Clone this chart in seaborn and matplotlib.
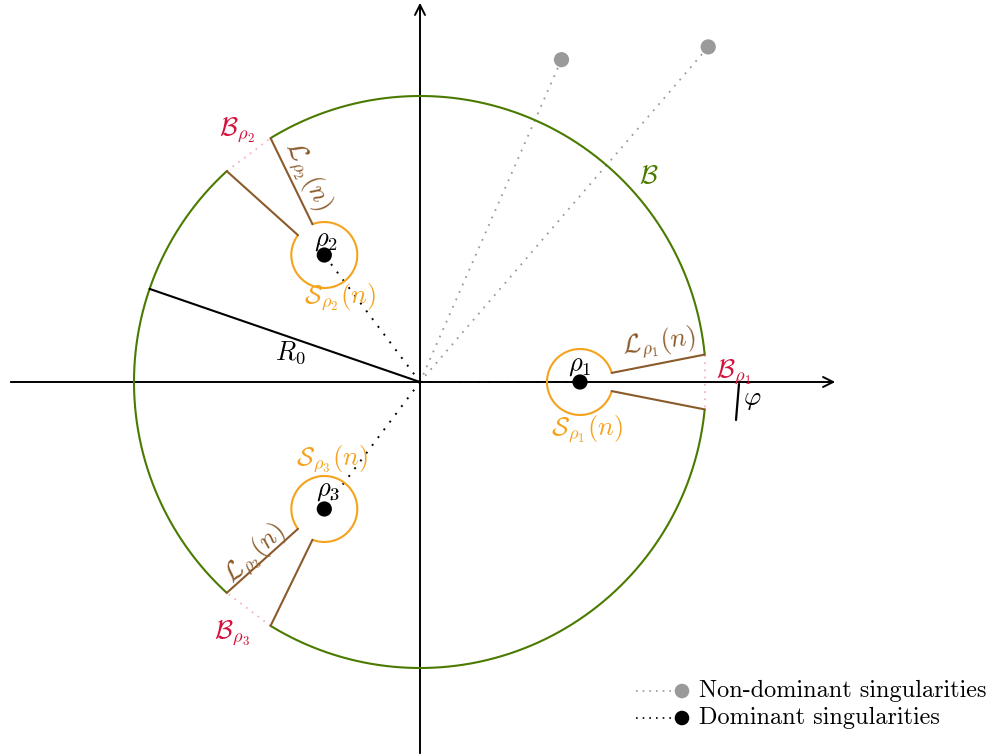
import numpy as np
import pandas as pd
import matplotlib
matplotlib.use("Agg")
import matplotlib.pyplot as plt
import seaborn as sns

# ---- data ----
dominant_names = [r"\rho_1", r"\rho_2", r"\rho_3"]
dominant_angles_deg = [0.0, 127.0, -127.0]
dominant_moduli = [160.0, 159.0, 159.0]
nondominant_angles_deg = [66.3, 49.3]
nondominant_moduli = [352.0, 442.0]
big_radius = 286.0
small_radius = 33.0
R0_angle_deg = 161.0
legend_labels = ["Non-dominant singularities", "Dominant singularities"]

sns.set_theme(style="white")
plt.rcParams["mathtext.fontset"] = "cm"
plt.rcParams["font.family"] = ["cmr10", "DejaVu Serif"]
plt.rcParams["axes.unicode_minus"] = False
plt.rcParams["text.color"] = "black"

GREEN = "#4a7a00"
ORANGE = "#f5a21c"
BROWN = "#8b5a2b"
RED = "#d4113c"
PINK = "#f4b4c4"
GREY = "#9a9a9a"

fig = plt.figure(figsize=(10.05, 7.56), dpi=100)
ax = fig.add_axes([0, 0, 1, 1])
ax.set_xlim(-420, 585)
ax.set_ylim(-374, 382)
ax.set_aspect("equal")
ax.axis("off")

def e(deg):
    t = np.deg2rad(deg)
    return np.array([np.cos(t), np.sin(t)])

beta = 5.5   # half-gap on big circle (deg)
alpha = 16.0  # half-opening on small circle (deg)

# axes arrows
ax.annotate("", xy=(418, 0), xytext=(-412, 0),
            arrowprops=dict(arrowstyle="->", color="black", lw=1.4, mutation_scale=18))
ax.annotate("", xy=(0, 382), xytext=(0, -374),
            arrowprops=dict(arrowstyle="->", color="black", lw=1.4, mutation_scale=18))

# non-dominant singularities
nd = pd.DataFrame({
    "x": [m * np.cos(np.deg2rad(a)) for a, m in zip(nondominant_angles_deg, nondominant_moduli)],
    "y": [m * np.sin(np.deg2rad(a)) for a, m in zip(nondominant_angles_deg, nondominant_moduli)],
})
for x, y in zip(nd["x"], nd["y"]):
    ax.plot([0, x], [0, y], color=GREY, lw=1.3, ls=(0, (1, 3.5)), zorder=2)
sns.scatterplot(data=nd, x="x", y="y", ax=ax, color=GREY, s=120, edgecolor="none", zorder=5, legend=False)

# dominant singularities
dm = pd.DataFrame({
    "x": [m * np.cos(np.deg2rad(a)) for a, m in zip(dominant_angles_deg, dominant_moduli)],
    "y": [m * np.sin(np.deg2rad(a)) for a, m in zip(dominant_angles_deg, dominant_moduli)],
})
for x, y in zip(dm["x"], dm["y"]):
    ax.plot([0, x], [0, y], color="black", lw=1.4, ls=(0, (1, 4)), zorder=2)

# big circle arcs
sorted_angles = sorted([a % 360 for a in dominant_angles_deg])
for i, a in enumerate(sorted_angles):
    b = sorted_angles[(i + 1) % len(sorted_angles)]
    if b <= a:
        b += 360
    t = np.linspace(a + beta, b - beta, 300)
    ax.plot(big_radius * np.cos(np.deg2rad(t)), big_radius * np.sin(np.deg2rad(t)),
            color=GREEN, lw=1.5, zorder=3)

# keyholes
for a, m in zip(dominant_angles_deg, dominant_moduli):
    c = m * e(a)
    t = np.linspace(a + alpha, a + 360 - alpha, 300)
    ax.plot(c[0] + small_radius * np.cos(np.deg2rad(t)), c[1] + small_radius * np.sin(np.deg2rad(t)),
            color=ORANGE, lw=1.5, zorder=3)
    for sgn in (1, -1):
        p0 = c + small_radius * e(a + sgn * alpha)
        p1 = big_radius * e(a + sgn * beta)
        ax.plot([p0[0], p1[0]], [p0[1], p1[1]], color=BROWN, lw=1.5, zorder=3)
    q0 = big_radius * e(a + beta)
    q1 = big_radius * e(a - beta)
    ax.plot([q0[0], q1[0]], [q0[1], q1[1]], color=PINK, lw=1.3, ls=(0, (1, 3)), zorder=2)

sns.scatterplot(data=dm, x="x", y="y", ax=ax, color="black", s=120, edgecolor="none", zorder=6, legend=False)

# R0
r0 = big_radius * e(R0_angle_deg)
ax.plot([0, r0[0]], [0, r0[1]], color="black", lw=1.5, zorder=3)

# phi marker
ax.plot([319, 316], [-2, -38], color="black", lw=1.6, zorder=3)

fs = 19
def T(x, y, s, color="black", rot=0, size=fs):
    # x,y in pixel coords of the reference
    ax.text(x - 420, 382 - y, s, color=color, fontsize=size, rotation=rot,
            ha="center", va="center", rotation_mode="anchor", zorder=7)

T(580, 366, r"$\rho_1$")
T(326, 241, r"$\rho_2$")
T(328, 491, r"$\rho_3$")
T(734, 372, r"$\mathcal{B}_{\rho_1}$", RED)
T(237, 130, r"$\mathcal{B}_{\rho_2}$", RED)
T(232, 633, r"$\mathcal{B}_{\rho_3}$", RED)
T(659, 342, r"$\mathcal{L}_{\rho_1}(n)$", BROWN, rot=7)
T(308, 175, r"$\mathcal{L}_{\rho_2}(n)$", BROWN, rot=-64)
T(255, 554, r"$\mathcal{L}_{\rho_3}(n)$", BROWN, rot=43)
T(587, 429, r"$\mathcal{S}_{\rho_1}(n)$", ORANGE)
T(340, 297, r"$\mathcal{S}_{\rho_2}(n)$", ORANGE)
T(332, 459, r"$\mathcal{S}_{\rho_3}(n)$", ORANGE)
T(649, 176, r"$\mathcal{B}$", GREEN)
T(290, 353, r"$R_0$")
T(752, 400, r"$\varphi$")

# legend
leg_y = [691, 718]
leg_colors = [GREY, "black"]
for yy, col, lab in zip(leg_y, leg_colors, legend_labels):
    ax.plot([636 - 420, 676 - 420], [382 - yy, 382 - yy], color=col, lw=1.2, ls=(0, (1, 3)))
    ax.scatter([682 - 420], [382 - yy], color=col, s=110, edgecolor="none", zorder=6)
    ax.text(699 - 420, 382 - yy, lab, fontsize=17.5, ha="left", va="center", color="black",
            family=["cmr10", "DejaVu Serif"])

fig.savefig("out.png", dpi=100, facecolor="white")
